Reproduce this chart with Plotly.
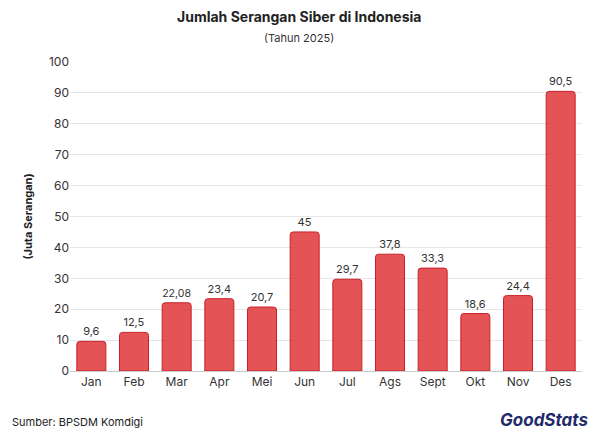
import plotly.graph_objects as go

months = ["Jan", "Feb", "Mar", "Apr", "Mei", "Jun", "Jul", "Ags", "Sept", "Okt", "Nov", "Des"]
values = [9.6, 12.5, 22.08, 23.4, 20.7, 45, 29.7, 37.8, 33.3, 18.6, 24.4, 90.5]
labels = ["9,6", "12,5", "22,08", "23,4", "20,7", "45", "29,7", "37,8", "33,3", "18,6", "24,4", "90,5"]

W, H = 598, 431
L, R, T, B = 62, 24, 54, 68
pw, ph = W - L - R, H - T - B


def px(x):
    return (x - 8 - L) / pw


def py(y):
    return (H - B - (y - 7)) / ph


fig = go.Figure(go.Bar(
    x=months, y=values, text=labels, textposition="outside",
    textfont=dict(size=11, color="#333"),
    marker=dict(color="rgba(224,60,64,0.88)", line=dict(color="#c8202a", width=1), cornerradius=3),
    width=0.68, cliponaxis=False,
))

fig.update_layout(
    width=W, height=H, plot_bgcolor="white", paper_bgcolor="white",
    font=dict(family="Inter, Roboto, sans-serif", color="#333", size=12),
    margin=dict(l=L, r=R, t=T, b=B),
    showlegend=False,
    xaxis=dict(showgrid=False, showline=True, linecolor="#ccc", tickfont=dict(size=12, color="#333")),
    yaxis=dict(range=[0, 100], dtick=10, gridcolor="#e6e6e6", zeroline=False,
               tickfont=dict(size=12, color="#333"),
               title=dict(text="<b>(Juta Serangan)</b>", font=dict(size=11, color="#222"), standoff=14)),
    annotations=[
        dict(text="<b>Jumlah Serangan Siber di Indonesia</b>", x=px(299), y=py(15), showarrow=False,
             font=dict(size=14, color="#222")),
        dict(text="(Tahun 2025)", x=px(299), y=py(37), showarrow=False,
             font=dict(size=11, color="#333")),
        dict(text="Sumber: BPSDM Komdigi", x=px(10), y=py(421), showarrow=False,
             xanchor="left", font=dict(size=11, color="#222")),
        dict(text="<b><i>GoodStats</i></b>", x=px(590), y=py(419), showarrow=False,
             xanchor="right", font=dict(size=17, color="#1f2a6b")),
    ],
)
for a in fig.layout.annotations:
    a.xref = "paper"
    a.yref = "paper"
    a.yanchor = "middle"

fig.write_html("out.html")
